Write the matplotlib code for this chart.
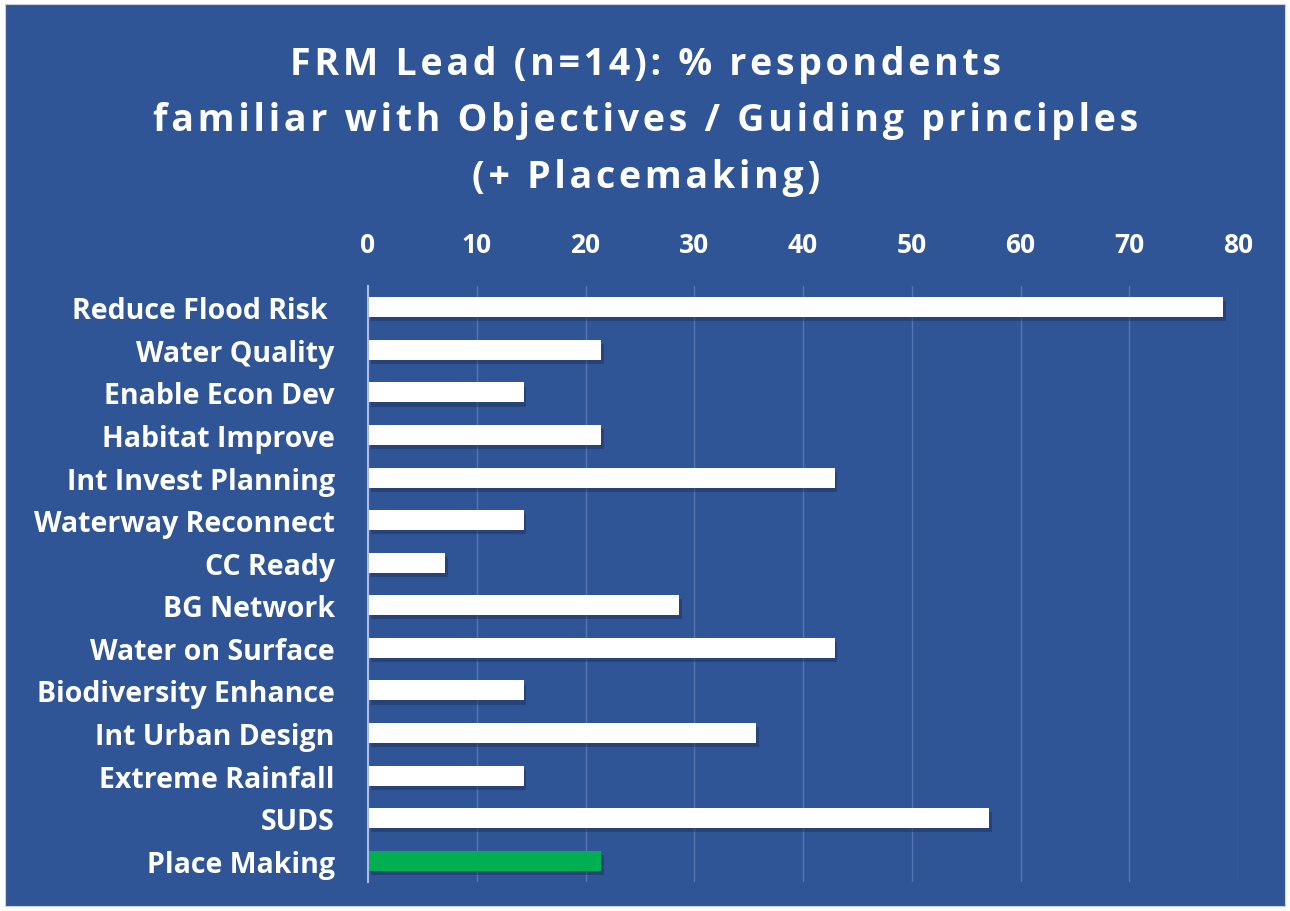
import matplotlib
matplotlib.use("Agg")
import matplotlib.pyplot as plt
from matplotlib.patches import Rectangle
import matplotlib.patheffects as pe

categories = ["Reduce Flood Risk ", "Water Quality", "Enable Econ Dev", "Habitat Improve",
              "Int Invest Planning", "Waterway Reconnect", "CC Ready", "BG Network",
              "Water on Surface", "Biodiversity Enhance", "Int Urban Design",
              "Extreme Rainfall", "SUDS", "Place Making"]
values = [78.6, 21.4, 14.3, 21.4, 42.9, 14.3, 7.1, 28.6, 42.9, 14.3, 35.7, 14.3, 57.1, 21.4]
colors = ["white"] * 13 + ["#00B050"]
xticks = [0, 10, 20, 30, 40, 50, 60, 70, 80]
title_lines = ["FRM Lead (n=14): % respondents",
               "familiar with Objectives / Guiding principles",
               "(+ Placemaking)"]

BG = "#2F5597"
W, H = 1290, 912
fig = plt.figure(figsize=(W / 100, H / 100), dpi=100)
fig.patch.set_facecolor("white")
fig.patches.append(Rectangle((5 / W, 5 / H), 1280 / W, 902 / H, transform=fig.transFigure,
                             facecolor=BG, edgecolor="#c8d0e0", lw=0.8, zorder=-10))

plt.rcParams['font.family'] = ['Open Sans', 'DejaVu Sans']

ax = fig.add_axes([368 / W, 1 - 883 / H, 870 / W, 596 / H])
ax.set_zorder(5)
ax.set_facecolor("none")
y = list(range(len(categories)))
bars = ax.barh(y, values, height=0.47, color=colors, zorder=3)
for b in bars:
    b.set_path_effects([pe.SimplePatchShadow(offset=(2, -3), shadow_rgbFace="#1a2f55", alpha=0.45), pe.Normal()])
ax.set_ylim(len(categories) - 0.5, -0.5)
ax.set_xlim(0, 80)
ax.set_yticks(y)
ax.set_yticklabels(categories, fontsize=20.5, fontweight="bold", color="white")
ax.set_xticks(xticks)
ax.set_xticklabels([str(t) for t in xticks], fontsize=19, fontweight="bold", color="white")
ax.xaxis.tick_top()
ax.tick_params(axis="x", length=0, pad=20)
ax.tick_params(axis="y", length=0, pad=24)
ax.grid(axis="x", color="#5674ad", lw=1, zorder=1)
for s in ["top", "right", "bottom"]:
    ax.spines[s].set_visible(False)
ax.spines["left"].set_color("#aabbdd")
ax.spines["left"].set_linewidth(1.5)
ax.spines["left"].set_zorder(4)

track = "\u200a"
for line, yy in zip(title_lines, [65, 121, 178]):
    fig.text(646 / W, 1 - yy / H, track.join(line), ha="center", va="center", fontsize=27,
             fontweight="bold", color="white")

fig.savefig("out.png", dpi=100, facecolor=fig.get_facecolor())
